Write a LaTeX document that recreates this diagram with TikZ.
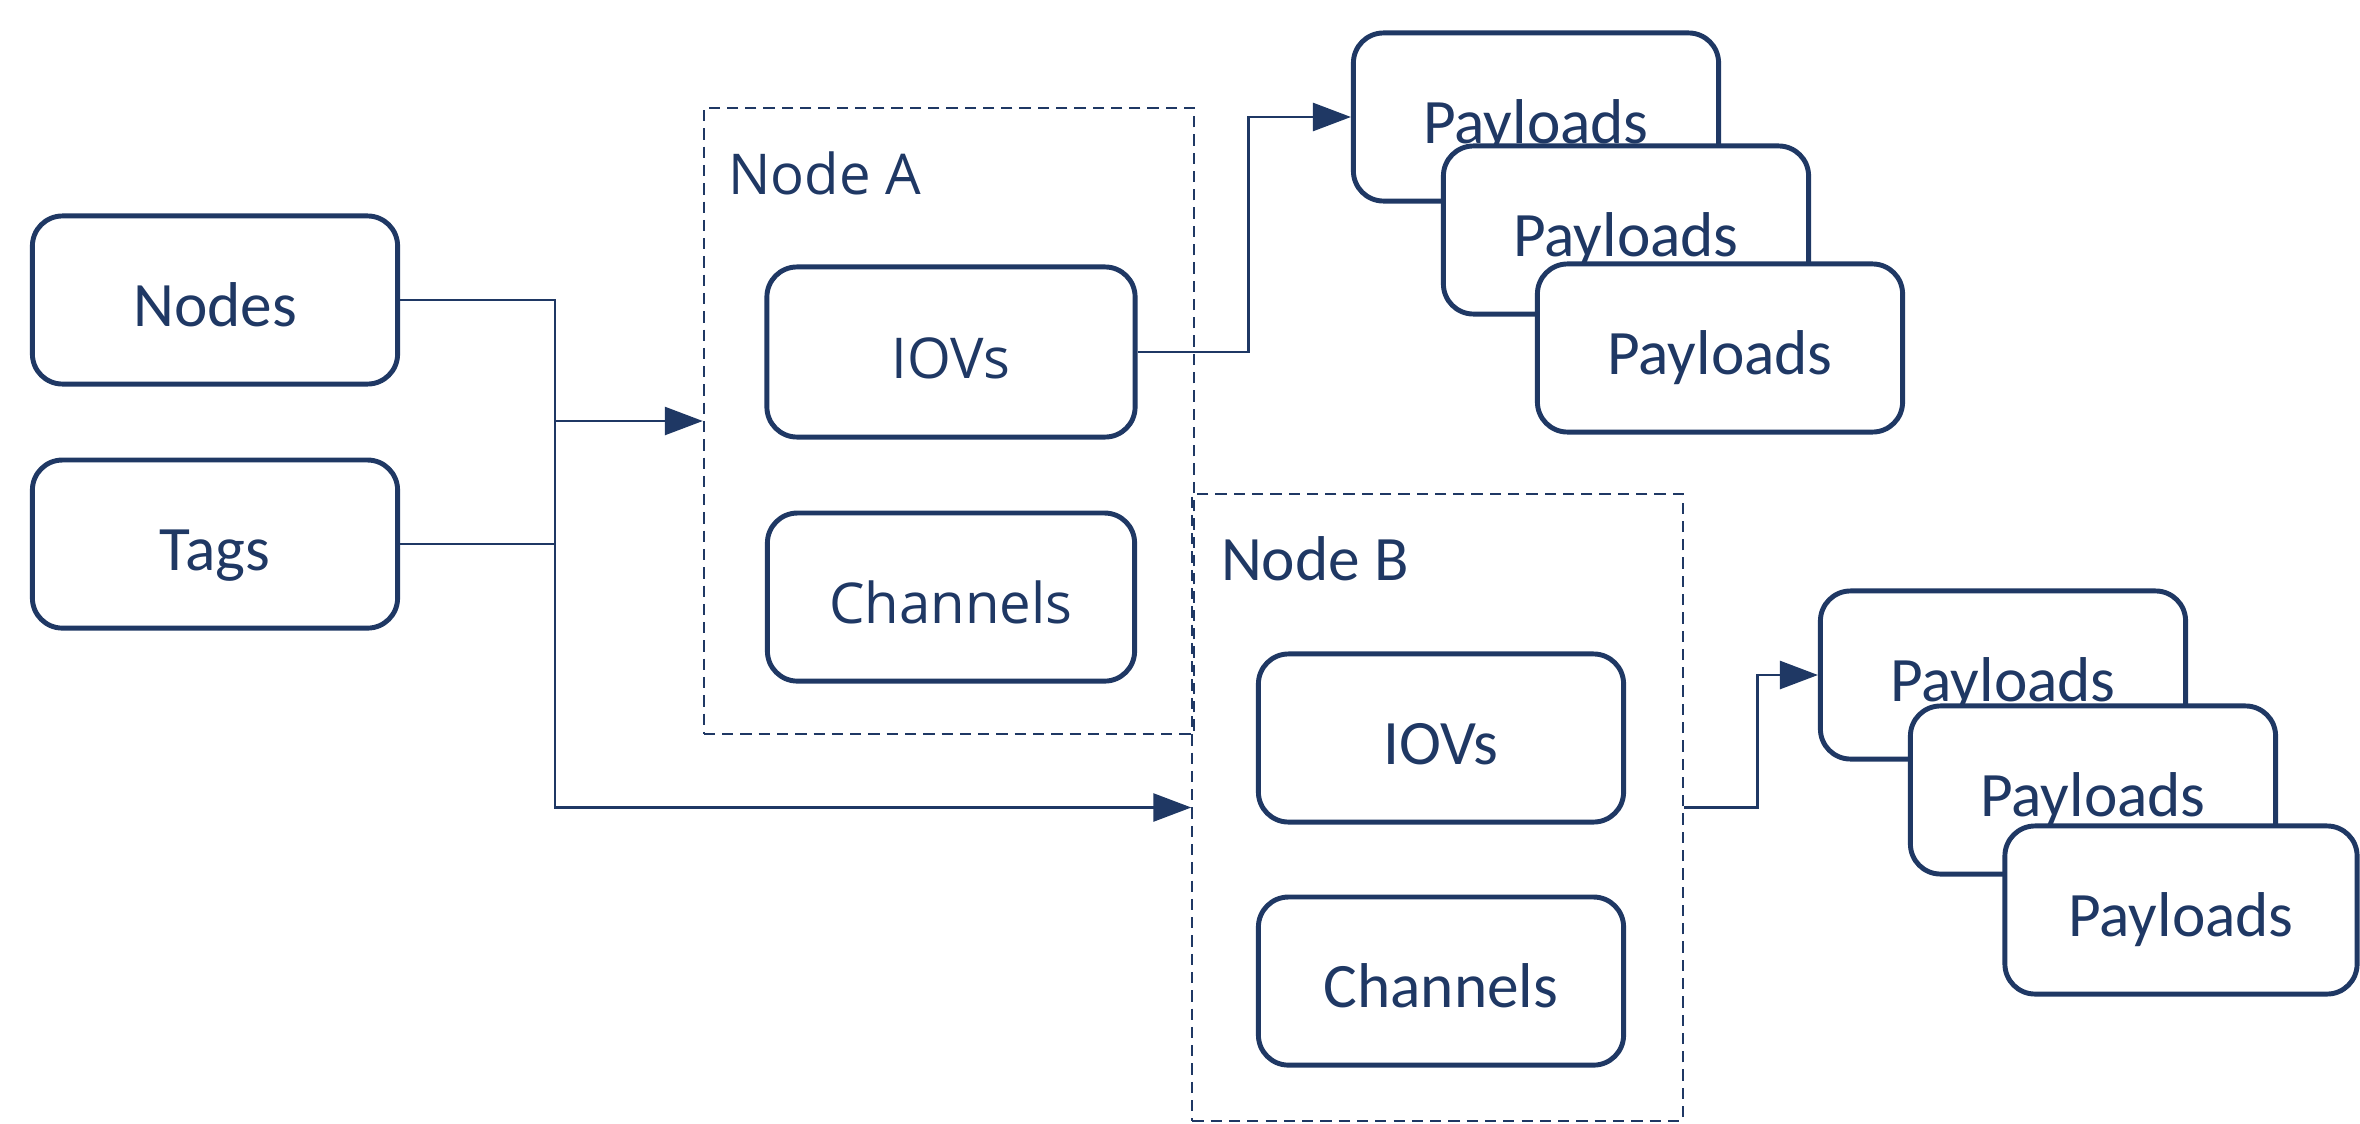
\documentclass[tikz,border=0pt]{standalone}
\usepackage{fontspec}
\setmainfont{Carlito}
\newfontfamily\wideface{Open Sans}
\usetikzlibrary{positioning,arrows.meta,calc}
\definecolor{navy}{RGB}{31,56,100}
\tikzset{%
  arrow/.style    = { -{Triangle[length=0.38cm, width=0.28cm]}, line width=0.75pt, draw = #1 },
  link/.style     = { line width=0.75pt, draw = #1 },
  tbox/.style     = { fill = white, draw = #1, text = #1, line width=1.4pt, align = center, rounded corners=0.3cm,
    minimum width = 3.65cm, minimum height = 1.68cm, text height = 0.68cm, text depth = 0.16cm,
    font = \fontsize{18}{21}\selectfont },
  gbox/.style     = { draw = #1, line width=0.6pt, dash pattern=on 3.2pt off 2pt,
    minimum width = 4.9cm, minimum height = 6.26cm },
  glabel/.style   = { text = #1, inner sep=0pt, font = \fontsize{18}{21}\selectfont },
}
\newcommand{\colorx}{navy}
\newcommand{\widefont}{\wideface\fontsize{16}{19}\selectfont}

\begin{document}
\begin{tikzpicture}[x=0.01cm, y=-0.01cm]
    \useasboundingbox (0,0) rectangle (2360,1124);
    % nodes ----------------------------------------------------------------------------------------
    % group frames
    \node(nodeA) [gbox=\colorx] at (949,421)    {};
    \node(nodeB) [gbox=\colorx] at (1437.5,807.5) {};
    \node(labA)  [glabel=\colorx, font=\widefont, below right = 0.44cm and 0.25cm of nodeA.north west] {Node A};
    \node(labB)  [glabel=\colorx, below right = 0.43cm and 0.29cm of nodeB.north west] {Node B};
    % inputs
    \node(nodes) [tbox=\colorx] at (215,300)           {Nodes};
    \node(tags)  [tbox=\colorx, below = 0.71cm of nodes] {Tags};
    % node A content
    \node(iovA)  [tbox=\colorx, font=\widefont, minimum width=3.68cm, minimum height=1.70cm] at (951,352) {IOVs};
    \node(chanA) [tbox=\colorx, font=\widefont, minimum width=3.67cm, below = 0.71cm of iovA] {Channels};
    % node B content
    \node(iovB)  [tbox=\colorx] at (1441,738)          {IOVs};
    \node(chanB) [tbox=\colorx, below = 0.70cm of iovB] {Channels};
    % payloads of A
    \node(payA1) [tbox=\colorx] at (1536,117)                   {Payloads};
    \node(payA2) [tbox=\colorx] at ([shift={(90,113)}]payA1)    {Payloads};
    \node(payA3) [tbox=\colorx] at ([shift={(94,118)}]payA2)    {Payloads};
    % payloads of B
    \node(payB1) [tbox=\colorx] at (2003,675)                   {Payloads};
    \node(payB2) [tbox=\colorx] at ([shift={(90,115)}]payB1)    {Payloads};
    \node(payB3) [tbox=\colorx, minimum width=3.52cm] at ([shift={(88,120)}]payB2) {Payloads};
    % arrows ---------------------------------------------------------------------------------------
    \coordinate(split) at (555,0);
    \draw[arrow=\colorx] (nodes.east) -| (split |- nodeB.west) -- (nodeB.west);
    \draw[link=\colorx]  (tags.east) -- (tags.east -| split);
    \draw[arrow=\colorx] (nodeA.west -| split) -- (nodeA.west);
    % to payloads
    \draw[arrow=\colorx] (iovA.east) -- ++(111,0) |- (payA1.west);
    \draw[arrow=\colorx] (nodeB.east) -- ++(74,0) |- (payB1.west);
\end{tikzpicture}
\end{document}
